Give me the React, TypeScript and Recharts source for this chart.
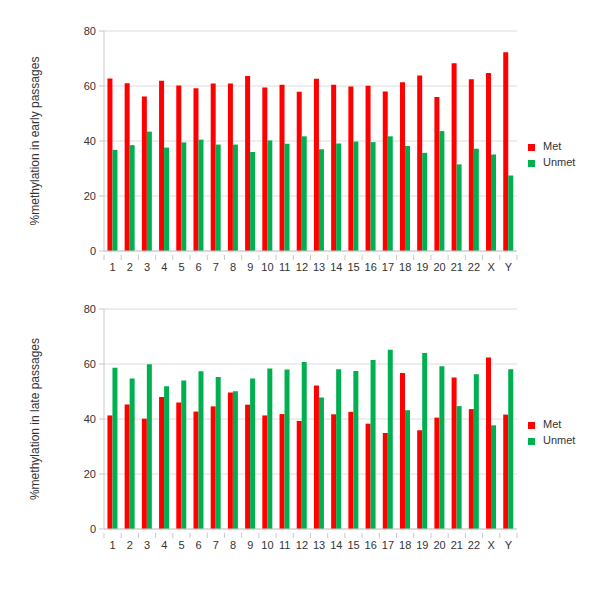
import { BarChart, Bar, XAxis, YAxis, CartesianGrid, Legend } from 'recharts'

const chromosomes = ['1', '2', '3', '4', '5', '6', '7', '8', '9', '10', '11', '12', '13', '14', '15', '16', '17', '18', '19', '20', '21', '22', 'X', 'Y']

const earlyMet = [62.7, 61.0, 56.2, 61.9, 60.2, 59.2, 60.9, 60.9, 63.6, 59.5, 60.5, 57.9, 62.6, 60.5, 59.8, 60.1, 58.0, 61.4, 63.8, 56.0, 68.3, 62.5, 64.7, 72.3]
const earlyUnmet = [36.8, 38.5, 43.4, 37.6, 39.5, 40.5, 38.7, 38.7, 36.0, 40.2, 39.0, 41.7, 37.0, 39.1, 39.8, 39.6, 41.7, 38.2, 35.7, 43.6, 31.5, 37.2, 35.1, 27.5]

const lateMet = [41.3, 45.3, 40.1, 48.0, 46.0, 42.7, 44.6, 49.6, 45.2, 41.3, 41.8, 39.3, 52.2, 41.7, 42.6, 38.3, 34.9, 56.7, 35.9, 40.5, 55.1, 43.6, 62.4, 41.6]
const lateUnmet = [58.6, 54.7, 59.9, 51.9, 54.0, 57.4, 55.3, 50.1, 54.7, 58.4, 58.0, 60.7, 47.8, 58.1, 57.5, 61.5, 65.2, 43.2, 64.0, 59.2, 44.7, 56.3, 37.7, 58.1]

const yTicks = [0, 20, 40, 60, 80]

const RED = '#ff0000'
const GREEN = '#00b050'
const AXIS = '#c8c8c8'
const TEXT = '#333333'

function XTick(props: any) {
  const { x, y, payload, index } = props
  const half = 413 / 24 / 2
  return (
    <g>
      {index === 0 && <line x1={x - half} y1={y - 4} x2={x - half} y2={y + 1} stroke={AXIS} />}
      <line x1={x + half} y1={y - 4} x2={x + half} y2={y + 1} stroke={AXIS} />
      <text x={x} y={y + 12} textAnchor="middle" fontSize={11} fill={TEXT}>{payload.value}</text>
    </g>
  )
}

function Panel({ met, unmet, label, legendTop }: { met: number[]; unmet: number[]; label: string; legendTop: number }) {
  const data = chromosomes.map((c, i) => ({ chr: c, met: met[i], unmet: unmet[i] }))
  return (
    <BarChart width={600} height={280} data={data} margin={{ top: 31, right: 83, bottom: 5, left: 54 }}
      barCategoryGap="20%" barGap={0}>
      <CartesianGrid vertical={false} stroke="#dcdcdc" />
      <XAxis dataKey="chr" height={24} stroke={AXIS} tickLine={false} tick={<XTick />} interval={0} />
      <YAxis width={50} domain={[0, 80]} ticks={yTicks} stroke={AXIS} tickSize={5} tickMargin={3}
        tick={{ fontSize: 11, fill: TEXT }}
        label={{
          content: ({ viewBox }: any) => (
            <text x={35} y={viewBox.y + viewBox.height / 2} transform={`rotate(-90 35 ${viewBox.y + viewBox.height / 2})`}
              textAnchor="middle" dominantBaseline="central" fontSize={12} fill={TEXT}>{label}</text>
          ),
        }} />
      <Legend layout="vertical" align="center" verticalAlign="middle" iconType="square" iconSize={7}
        wrapperStyle={{ left: 528, top: legendTop, width: 70, fontSize: 11, lineHeight: '16px' }}
        formatter={(v) => <span style={{ color: TEXT, marginLeft: 4 }}>{v}</span>} />
      <Bar dataKey="met" name="Met" fill={RED} isAnimationActive={false} />
      <Bar dataKey="unmet" name="Unmet" fill={GREEN} isAnimationActive={false} />
    </BarChart>
  )
}

export default function App() {
  return (
    <div style={{ position: 'absolute', left: 0, top: 0, width: 600, height: 600, background: '#fff', fontFamily: '"Liberation Sans", Arial, sans-serif' }}>
      <div style={{ position: 'absolute', left: 0, top: 0 }}>
        <Panel met={earlyMet} unmet={earlyUnmet} label="%methylation in early passages" legendTop={138} />
      </div>
      <div style={{ position: 'absolute', left: 0, top: 278 }}>
        <Panel met={lateMet} unmet={lateUnmet} label="%methylation in late passages" legendTop={138} />
      </div>
    </div>
  )
}
